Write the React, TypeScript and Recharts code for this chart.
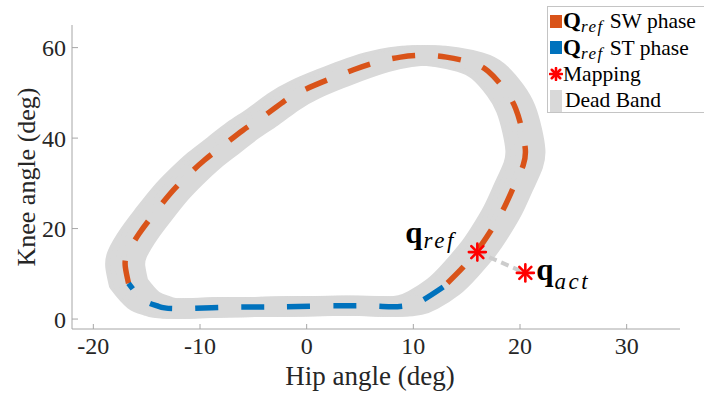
import { ComposedChart, Line, Scatter, XAxis, YAxis } from "recharts"

// hip / knee angles (deg)
const swHip = [-16.7, -17.0, -16.8, -15.7, -14.4, -12.8, -11.3, -9.6, -7.8, -6.0, -4.1, -2.2, -0.2, 2.2, 4.4, 6.6, 8.8, 11.0, 13.1, 15.3, 17.0, 18.6, 19.6, 20.2, 20.5, 20.3, 19.4, 18.4, 17.2, 16.0, 14.4, 12.8]
const swKnee = [7.9, 11.5, 14.5, 18.9, 23.0, 27.7, 31.4, 35.1, 38.4, 41.7, 44.7, 48.0, 50.7, 53.1, 55.1, 56.8, 57.9, 58.3, 57.9, 56.8, 54.8, 50.6, 46.5, 41.7, 37.5, 34.0, 29.2, 24.1, 19.3, 15.2, 10.8, 7.1]
const stHip = [12.8, 10.9, 9.7, 8.1, 5.9, 1.6, -3.1, -7.8, -12.5, -14.0, -15.3, -16.7]
const stKnee = [7.1, 4.2, 3.1, 2.7, 2.9, 2.9, 2.7, 2.6, 2.3, 2.9, 4.2, 7.9]
const mapHip = [16.0, 20.5]
const mapKnee = [14.8, 10.2]
const mapNames = ["ref", "act"]
const xTicks = [-20, -10, 0, 10, 20, 30]
const yTicks = [0, 20, 40, 60]
// dead band tolerance on hip angle (deg)
const bandHipOffsets = [-0.94, -0.47, 0, 0.47, 0.94]

const toPoints = (xs: number[], ys: number[]) => xs.map((x, i) => ({ x, y: ys[i] }))
const swData = toPoints(swHip, swKnee)
const stData = toPoints(stHip, stKnee)
const loopData = [...swData, ...stData.slice(1)]
const mapData = mapHip.map((x, i) => ({ x, y: mapKnee[i], name: mapNames[i] }))

const FONT = '"Liberation Serif", "DejaVu Serif", serif'
const ORANGE = "#D95319"
const BLUE = "#0072BD"
const BAND = "#D9D9D9"
const RED = "#FF0000"

function Asterisk({ cx, cy, r }: { cx: number; cy: number; r: number }) {
  const d = r * Math.SQRT1_2
  return (
    <g stroke={RED} strokeWidth={2.6} strokeLinecap="round">
      <line x1={cx - r} y1={cy} x2={cx + r} y2={cy} />
      <line x1={cx} y1={cy - r} x2={cx} y2={cy + r} />
      <line x1={cx - d} y1={cy - d} x2={cx + d} y2={cy + d} />
      <line x1={cx - d} y1={cy + d} x2={cx + d} y2={cy - d} />
    </g>
  )
}

function MappingMark(props: any) {
  const { cx, cy, payload } = props
  const isRef = payload.name === "ref"
  const tx = isRef ? cx - 72 : cx + 11
  const ty = isRef ? cy - 9 : cy + 7
  return (
    <g>
      <Asterisk cx={cx} cy={cy} r={8.5} />
      <text x={tx} y={ty} fontFamily={FONT} fill="#000">
        <tspan fontSize={31} fontWeight="bold">q</tspan>
        <tspan fontSize={23} fontStyle="italic" letterSpacing={2.5} dy={isRef ? 5 : 9} dx={1}>{payload.name}</tspan>
      </text>
    </g>
  )
}

function LegendRow({ swatch, children }: { swatch: any; children: any }) {
  return (
    <div style={{ display: "flex", alignItems: "center", height: 26.5 }}>
      <div style={{ width: 15, display: "flex", justifyContent: "center" }}>{swatch}</div>
      <div style={{ whiteSpace: "nowrap" }}>{children}</div>
    </div>
  )
}

const QRef = () => (
  <span>
    <b style={{ fontSize: 23 }}>Q</b>
    <i style={{ fontSize: 17, position: "relative", top: 4, marginRight: 6, letterSpacing: 1.5 }}>ref</i>
  </span>
)

export default function App() {
  return (
    <div style={{ position: "absolute", left: 0, top: 0, width: 704, height: 394, background: "#fff", overflow: "hidden" }}>
      <ComposedChart width={704} height={394} margin={{ top: 25, right: 24, bottom: 0, left: 0 }}>
        <XAxis
          type="number"
          dataKey="x"
          domain={[-22, 35]}
          ticks={xTicks}
          allowDataOverflow
          height={65}
          stroke="#a6a6a6"
          tickSize={-5}
          tickMargin={13}
          tick={{ fill: "#262626", fontSize: 24, fontFamily: FONT }}
          label={(p: any) => {
            const vb = p.viewBox
            return (
              <text x={vb.x + vb.width / 2 - 6} y={vb.y + 56} textAnchor="middle" fontFamily={FONT} fontSize={27} fill="#262626">
                Hip angle (deg)
              </text>
            )
          }}
        />
        <YAxis
          type="number"
          dataKey="y"
          domain={[-2.2, 65]}
          ticks={yTicks}
          allowDataOverflow
          width={72}
          stroke="#a6a6a6"
          tickSize={-6}
          tickMargin={12}
          tick={{ fill: "#262626", fontSize: 24, fontFamily: FONT }}
          label={(p: any) => {
            const vb = p.viewBox
            const cx = 35
            const cy = vb.y + vb.height / 2
            return (
              <text x={cx} y={cy} transform={`rotate(-90 ${cx} ${cy})`} textAnchor="middle" fontFamily={FONT} fontSize={26} fill="#262626">
                Knee angle (deg)
              </text>
            )
          }}
        />
        {bandHipOffsets.map((off) => (
          <Line
            key={off}
            data={loopData.map((p) => ({ x: p.x + off, y: p.y }))}
            dataKey="y"
            type="natural"
            stroke={BAND}
            strokeWidth={20}
            strokeLinejoin="round"
            strokeLinecap="round"
            dot={false}
            activeDot={false}
            isAnimationActive={false}
          />
        ))}
        <Line
          data={mapData}
          dataKey="y"
          type="linear"
          stroke="#CCCCCC"
          strokeWidth={4}
          strokeDasharray="8 5"
          dot={false}
          activeDot={false}
          isAnimationActive={false}
        />
        <Line
          data={swData}
          dataKey="y"
          type="natural"
          stroke={ORANGE}
          strokeWidth={5.5}
          strokeDasharray="23 23"
          dot={false}
          activeDot={false}
          isAnimationActive={false}
        />
        <Line
          data={stData}
          dataKey="y"
          type="natural"
          stroke={BLUE}
          strokeWidth={5.5}
          strokeDasharray="23 23"
          dot={false}
          activeDot={false}
          isAnimationActive={false}
        />
        <Scatter data={mapData} dataKey="y" shape={MappingMark} isAnimationActive={false} />
      </ComposedChart>
      <div
        style={{
          position: "absolute",
          left: 547,
          top: 6,
          width: 170,
          height: 107,
          border: "1px solid #c4c4c4",
          background: "#fff",
          fontFamily: FONT,
          fontSize: 21.5,
          color: "#000",
          boxSizing: "border-box",
          paddingTop: 1,
        }}
      >
        <LegendRow swatch={<div style={{ width: 12, height: 13, background: ORANGE }} />}>
          <QRef />SW phase
        </LegendRow>
        <LegendRow swatch={<div style={{ width: 12, height: 13, background: BLUE }} />}>
          <QRef />ST phase
        </LegendRow>
        <LegendRow
          swatch={
            <svg width={14} height={14}>
              <Asterisk cx={7} cy={7} r={6} />
            </svg>
          }
        >
          Mapping
        </LegendRow>
        <LegendRow swatch={<div style={{ width: 12, height: 22, background: BAND }} />}>
          <span style={{ marginLeft: 2 }}>Dead Band</span>
        </LegendRow>
      </div>
    </div>
  )
}
